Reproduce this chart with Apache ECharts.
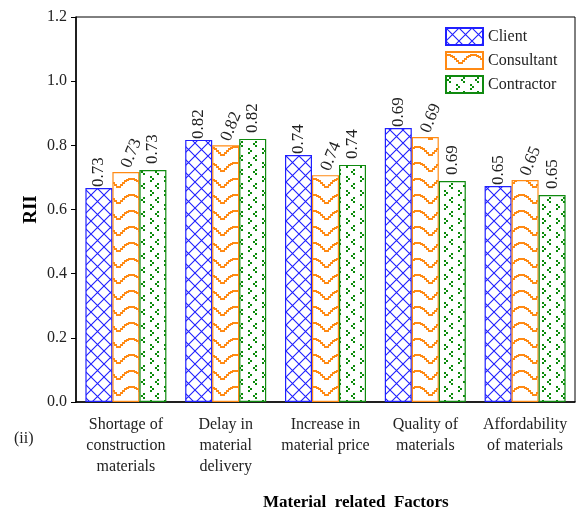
<!DOCTYPE html>
<html>
<head>
<meta charset="utf-8">
<script src="https://cdn.jsdelivr.net/npm/echarts@6/dist/echarts.min.js"></script>
<style>html,body{margin:0;padding:0;background:#fff}#c{width:582px;height:513px}</style>
</head>
<body>
<div id="c"></div>
<script>
var categories = ['Shortage of\nconstruction\nmaterials', 'Delay in\nmaterial\ndelivery', 'Increase in\nmaterial price', 'Quality of\nmaterials', 'Affordability\nof materials'];
var clientValues = [0.667, 0.817, 0.770, 0.854, 0.673];
var consultantValues = [0.717, 0.800, 0.707, 0.826, 0.692];
var contractorValues = [0.723, 0.820, 0.739, 0.689, 0.645];
var barLabels = ['0.73', '0.82', '0.74', '0.69', '0.65'];
var yTicks = [0, 0.2, 0.4, 0.6, 0.8, 1.0, 1.2];

var FONT = '"Liberation Serif", "Times New Roman", serif';

function mk(w, h, draw) {
  var c = document.createElement('canvas');
  c.width = w; c.height = h;
  var g = c.getContext('2d');
  g.fillStyle = '#fff'; g.fillRect(0, 0, w, h);
  draw(g);
  return { image: c, repeat: 'repeat' };
}
var crossPat = mk(13, 13, function (g) {
  g.strokeStyle = '#1f1fff'; g.lineWidth = 1.1;
  g.beginPath();
  g.moveTo(0, 0); g.lineTo(13, 13);
  g.moveTo(13, 0); g.lineTo(0, 13);
  g.stroke();
});
var wavePat = mk(26, 16, function (g) {
  g.fillStyle = '#ff8a14';
  var pts = [[0,2],[2,2],[4,3],[6,4],[8,6],[10,8],[12,10],[14,10],[16,8],[18,6],[20,4],[22,3],[24,2]];
  pts.forEach(function (p) { g.fillRect(p[0], p[1], 3, 2); });
});
var dotPat = mk(14, 14, function (g) {
  g.fillStyle = '#0a8a0a';
  [[3,1],[1,3],[3,5],[10,8],[12,10],[10,12]].forEach(function (p) { g.fillRect(p[0], p[1], 2, 2); });
});

function lbl(rot, dx) {
  return {
    show: true, position: 'top', distance: 5, rotate: rot, offset: [dx, 0],
    align: 'left', verticalAlign: 'middle',
    fontFamily: FONT, fontSize: 17, color: '#222',
    formatter: function (p) { return barLabels[p.dataIndex]; }
  };
}

var chart = echarts.init(document.getElementById('c'), null, { renderer: 'canvas' });
chart.setOption({
  animation: false,
  grid: { left: 76, right: 7, top: 17, bottom: 111, show: true, borderColor: '#000', borderWidth: 1, backgroundColor: 'transparent' },
  legend: {
    orient: 'vertical', left: 440, top: 22, itemWidth: 37, itemHeight: 17, itemGap: 5,
    icon: 'rect',
    textStyle: { fontFamily: FONT, fontSize: 16, color: '#222' },
    data: ['Client', 'Consultant', 'Contractor']
  },
  xAxis: {
    type: 'category', data: categories,
    axisLine: { lineStyle: { color: '#000', width: 1.5 } },
    axisTick: { alignWithLabel: true, length: 5, lineStyle: { color: '#000' } },
    axisLabel: { interval: 0, margin: 12, fontFamily: FONT, fontSize: 16, color: '#222', lineHeight: 21 }
  },
  yAxis: {
    type: 'value', min: 0, max: 1.2, interval: 0.2,
    name: 'RII', nameLocation: 'middle', nameGap: 35, nameMoveOverlap: false,
    nameTextStyle: { fontFamily: FONT, fontSize: 19, fontWeight: 'bold', color: '#000' },
    axisLine: { show: true, lineStyle: { color: '#000', width: 1.5 } },
    axisTick: { show: true, length: 5, lineStyle: { color: '#000' } },
    splitLine: { show: false },
    axisLabel: { margin: 9, fontFamily: FONT, fontSize: 16, color: '#222',
      formatter: function (v) { return v.toFixed(1); } }
  },
  series: [
    { name: 'Client', type: 'bar', data: clientValues, barWidth: 27, barGap: '0%',
      itemStyle: { color: crossPat, borderColor: '#2020ff', borderWidth: 1.2 }, label: lbl(90, -4) },
    { name: 'Consultant', type: 'bar', data: consultantValues, barWidth: 27, barGap: '0%',
      itemStyle: { color: wavePat, borderColor: '#ff8a14', borderWidth: 1.2 }, label: lbl(68, 0) },
    { name: 'Contractor', type: 'bar', data: contractorValues, barWidth: 27, barGap: '0%',
      itemStyle: { color: dotPat, borderColor: '#108a10', borderWidth: 1.2 }, label: lbl(90, 1) }
  ],
  graphic: [
    { type: 'text', left: 263, top: 494, style: { text: 'Material  related  Factors', font: 'bold 17px ' + FONT, fill: '#000' } },
    { type: 'text', left: 14, top: 431, style: { text: '(ii)', font: '16px ' + FONT, fill: '#222' } }
  ]
});
</script>
</body>
</html>
